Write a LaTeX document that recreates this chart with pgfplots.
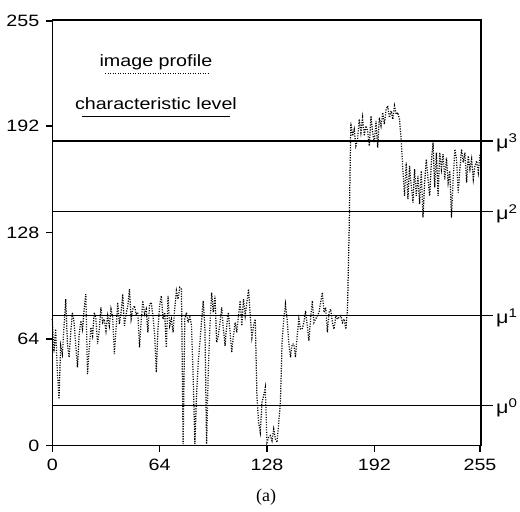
\documentclass[border=0pt]{standalone}
\usepackage{fontspec}
\setmainfont{Liberation Sans}
\newfontfamily\serf{Liberation Serif}
\usepackage{graphicx}
\usepackage{pgfplots}
\usepackage{pgfplotstable}
\pgfplotsset{compat=1.18}
\newcommand{\sx}[1]{\scalebox{1.2}[1]{#1}}
\pgfplotstableread{
x y
0 76
1 56
2 70
3 45
4 28
5 60
6 55
7 72
8 88
9 62
10 53
11 68
12 80
13 74
14 60
15 47
16 66
17 75
18 70
19 82
20 91
21 43
22 58
23 71
24 66
25 80
26 76
27 61
28 70
29 83
30 74
31 76
32 69
33 78
34 72
35 82
36 77
37 55
38 70
39 86
40 73
41 80
42 91
43 72
44 79
45 84
46 94
47 76
48 82
49 84
50 79
51 80
52 59
53 75
54 87
55 79
56 82
57 68
58 85
59 86
60 78
61 67
62 44
63 70
64 84
65 90
66 76
67 80
68 59
69 90
70 72
71 76
72 68
73 83
74 93
75 88
76 95
77 94
78 1
79 76
80 80
81 74
82 78
83 72
84 40
85 1
86 30
87 50
88 62
89 75
90 87
91 70
92 1
93 45
94 72
95 92
96 80
97 90
98 62
99 66
100 74
101 83
102 70
103 60
104 72
105 80
106 68
107 56
108 66
109 74
110 68
111 78
112 87
113 72
114 88
115 78
116 86
117 94
118 78
119 65
120 72
121 76
122 30
123 14
124 8
125 26
126 30
127 35
128 2
129 5
130 6
131 3
132 10
133 4
134 2
135 14
136 26
137 62
138 76
139 85
140 76
141 62
142 53
143 61
144 61
145 53
146 66
147 76
148 70
149 70
150 74
151 81
152 72
153 63
154 76
155 87
156 74
157 76
158 78
159 80
160 86
161 92
162 80
163 83
164 68
165 80
166 82
167 74
168 70
169 78
170 76
171 77
172 78
173 74
174 76
175 70
176 82
177 130
178 194
179 186
180 190
181 180
182 184
183 196
184 188
185 197
186 186
187 192
188 189
189 180
190 198
191 188
192 182
193 195
194 179
195 197
196 192
197 200
198 193
199 202
200 204
201 197
202 201
203 196
204 204
205 199
206 200
207 196
208 184
209 166
210 150
211 170
212 148
213 168
214 156
215 146
216 166
217 150
218 162
219 145
220 165
221 137
222 158
223 172
224 160
225 150
226 170
227 182
228 155
229 176
230 150
231 176
232 166
233 175
234 160
235 173
236 158
237 165
238 137
239 160
240 178
241 172
242 152
243 166
244 178
245 170
246 176
247 158
248 174
249 166
250 172
251 160
252 168
253 171
254 164
255 175
}\profile
\begin{document}
\begin{tikzpicture}
\useasboundingbox (-26.15pt,-33.15pt) rectangle (233.85pt,222.85pt);
\begin{axis}[
  at={(0pt,0pt)}, anchor=south west,
  scale only axis, width=213.85pt, height=212.35pt,
  xmin=0, xmax=255, ymin=0, ymax=255,
  axis lines=left, axis line style={-, black, line width=0.7pt},
  xtick={0,64,128,192,255}, ytick={0,64,128,192,255},
  xticklabels={\sx{0},\sx{64},\sx{128},\sx{192},\sx{255}},
  yticklabels={\sx{0},\sx{64},\sx{128},\sx{192},\sx{255}},
  tick align=outside, major tick length=3pt,
  tick style={black, line width=0.7pt},
  tick label style={font=\fontsize{8.2pt}{10pt}\selectfont},
  clip=false,
]
\addplot[black, line width=0.62pt, dash pattern=on 0.55pt off 0.7pt] table[x=x,y=y] {\profile};
\addplot[black, solid, line width=0.7pt] coordinates {(0,24) (263,24)};
\addplot[black, solid, line width=0.7pt] coordinates {(0,78) (263,78)};
\addplot[black, solid, line width=0.7pt] coordinates {(0,140.5) (263,140.5)};
\addplot[black, solid, line width=0.7pt] coordinates {(0,183) (263,183)};
\node[anchor=base west, inner sep=0pt, font=\fontsize{9pt}{10pt}\selectfont, yshift=-3.8pt] at (axis cs:264.4,24) {\sx{μ}\raisebox{2.8pt}{\fontsize{6.3pt}{7pt}\selectfont\sx{0}}};
\node[anchor=base west, inner sep=0pt, font=\fontsize{9pt}{10pt}\selectfont, yshift=-3.8pt] at (axis cs:264.4,78) {\sx{μ}\raisebox{2.8pt}{\fontsize{6.3pt}{7pt}\selectfont\sx{1}}};
\node[anchor=base west, inner sep=0pt, font=\fontsize{9pt}{10pt}\selectfont, yshift=-3.8pt] at (axis cs:264.4,140.5) {\sx{μ}\raisebox{2.8pt}{\fontsize{6.3pt}{7pt}\selectfont\sx{2}}};
\node[anchor=base west, inner sep=0pt, font=\fontsize{9pt}{10pt}\selectfont, yshift=-3.8pt] at (axis cs:264.4,183) {\sx{μ}\raisebox{2.8pt}{\fontsize{6.3pt}{7pt}\selectfont\sx{3}}};
\node[anchor=base, inner sep=0pt, font=\fontsize{8.2pt}{10pt}\selectfont] at (axis cs:61.8,227.7) {\sx{image profile}};
\draw[black, line width=0.55pt, dash pattern=on 0.5pt off 0.75pt] (axis cs:31.5,223.2) -- (axis cs:92.9,223.2);
\node[anchor=base, inner sep=0pt, font=\fontsize{8.2pt}{10pt}\selectfont] at (axis cs:61.8,201.6) {\sx{characteristic level}};
\draw[black, line width=0.65pt] (axis cs:17.7,197.5) -- (axis cs:106,197.5);
\node[anchor=base, inner sep=0pt, font=\serf\fontsize{9pt}{10pt}\selectfont] at (axis cs:127.5,-33.8) {(a)};
\end{axis}
\draw[black, line width=0.75pt, line cap=rect] (0pt,212.9pt) -- (214.4pt,212.9pt) -- (214.4pt,0pt);
\end{tikzpicture}
\end{document}
